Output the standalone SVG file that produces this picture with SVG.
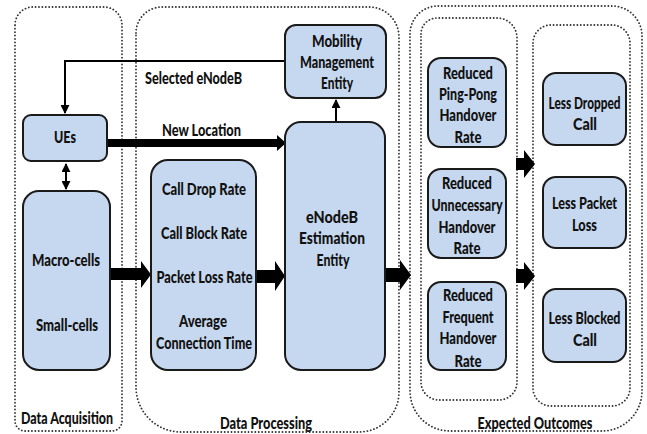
<svg xmlns="http://www.w3.org/2000/svg" width="647" height="434" viewBox="0 0 647 434">
<style>
.grp{fill:none;stroke:#333;stroke-width:1.8;stroke-dasharray:0.1 3.3;stroke-linecap:round}
.box{fill:#c6d8ef;stroke:#1a1a1a;stroke-width:2}
text{font-family:Lato,"Liberation Sans",sans-serif;font-weight:900;font-size:17px;fill:#111;text-anchor:middle}
.ln{fill:none;stroke:#000;stroke-width:2}
.big{fill:#000}
</style>
<defs>
<marker id="ah" viewBox="0 0 10 10" refX="9" refY="5" markerWidth="4.5" markerHeight="4.5" orient="auto-start-reverse" markerUnits="strokeWidth">
<path d="M0,0 L10,5 L0,10 Z" fill="#000"/>
</marker>
</defs>
<rect width="647" height="434" fill="#fff"/>
<g id="groups">
<path class="grp" d="M15,25 A18,18 0 0 1 33,7 H104 A18,18 0 0 1 122,25 V421 A10,10 0 0 1 112,431 H25 A10,10 0 0 1 15,421 Z"/>
<path class="grp" d="M136,33 A26,26 0 0 1 162,7 H369 A30,30 0 0 1 399,37 V392 A40,40 0 0 1 359,432 H181 A45,45 0 0 1 136,387 Z"/>
<path class="grp" d="M410,34 A28,28 0 0 1 438,6 H612 A30,30 0 0 1 642,36 V391 A40,40 0 0 1 602,431 H450 A40,40 0 0 1 410,391 Z"/>
<path class="grp" d="M421,34 A16,16 0 0 1 437,18 H497 A20,20 0 0 1 517,38 V382 A18,18 0 0 1 499,400 H439 A18,18 0 0 1 421,382 Z"/>
<path class="grp" d="M533,43 A18,18 0 0 1 551,25 H612 A18,18 0 0 1 630,43 V388 A18,18 0 0 1 612,406 H551 A18,18 0 0 1 533,388 Z"/>
<text x="67" y="424" textLength="92" lengthAdjust="spacingAndGlyphs">Data Acquisition</text>
<text x="266" y="429" textLength="92" lengthAdjust="spacingAndGlyphs">Data Processing</text>
<text x="535" y="429" textLength="115" lengthAdjust="spacingAndGlyphs">Expected Outcomes</text>
</g>
<g id="connectors">
<polyline class="ln" points="285,61 65,61 65,113" marker-end="url(#ah)"/>
<line class="ln" x1="66" y1="164" x2="66" y2="189" marker-start="url(#ah)" marker-end="url(#ah)"/>
<line class="ln" x1="336" y1="122" x2="336" y2="100" marker-end="url(#ah)"/>
<polygon class="big" points="107,139 277,139 277,135 286,143 277,151 277,147 107,147"/>
<polygon class="big" points="110,268 141,268 141,261 151,274.5 141,288 141,280 110,280"/>
<polygon class="big" points="256,270 275,270 275,261 285,276 275,291 275,283 256,283"/>
<polygon class="big" points="385,268 400,268 400,260 411,275 400,290 400,282 385,282"/>
<polygon class="big" points="516,158 524,158 524,150 535,164 524,178 524,170 516,170"/>
<polygon class="big" points="516,269 524,269 524,262 535,276 524,290 524,283 516,283"/>
<text x="193.5" y="84" textLength="97" lengthAdjust="spacingAndGlyphs">Selected eNodeB</text>
<text x="201.5" y="136" textLength="79" lengthAdjust="spacingAndGlyphs">New Location</text>
</g>
<g id="ues"><rect class="box" x="23" y="115" width="84" height="46" rx="8"/><text x="65" y="143" textLength="22" lengthAdjust="spacingAndGlyphs">UEs</text></g>
<g id="cells"><rect class="box" x="23" y="191" width="87" height="179" rx="16"/><text x="66" y="266" textLength="68" lengthAdjust="spacingAndGlyphs">Macro-cells</text><text x="67" y="331" textLength="62" lengthAdjust="spacingAndGlyphs">Small-cells</text></g>
<g id="metrics"><rect class="box" x="151" y="160" width="105" height="210" rx="17"/>
<text x="204" y="195" textLength="84" lengthAdjust="spacingAndGlyphs">Call Drop Rate</text><text x="204" y="239" textLength="86" lengthAdjust="spacingAndGlyphs">Call Block Rate</text><text x="204.5" y="283" textLength="96" lengthAdjust="spacingAndGlyphs">Packet Loss Rate</text><text x="203" y="327" textLength="48" lengthAdjust="spacingAndGlyphs">Average</text><text x="204" y="349" textLength="96" lengthAdjust="spacingAndGlyphs">Connection Time</text></g>
<g id="mme"><rect class="box" x="285" y="25" width="101" height="73" rx="11"/><text x="337" y="47" textLength="50" lengthAdjust="spacingAndGlyphs">Mobility</text><text x="337" y="68" textLength="74" lengthAdjust="spacingAndGlyphs">Management</text><text x="337" y="89" textLength="32" lengthAdjust="spacingAndGlyphs">Entity</text></g>
<g id="enodeb"><rect class="box" x="285" y="122" width="100" height="248" rx="16"/><text x="332" y="223" textLength="52" lengthAdjust="spacingAndGlyphs">eNodeB</text><text x="332" y="244" textLength="66" lengthAdjust="spacingAndGlyphs">Estimation</text><text x="333" y="266" textLength="33" lengthAdjust="spacingAndGlyphs">Entity</text></g>
<g id="pingpong"><rect class="box" x="428" y="58" width="78" height="89" rx="13"/><text x="468" y="79" textLength="50" lengthAdjust="spacingAndGlyphs">Reduced</text><text x="468" y="100" textLength="58" lengthAdjust="spacingAndGlyphs">Ping-Pong</text><text x="468" y="121" textLength="57" lengthAdjust="spacingAndGlyphs">Handover</text><text x="468" y="143" textLength="27" lengthAdjust="spacingAndGlyphs">Rate</text></g>
<g id="unnecessary"><rect class="box" x="428" y="169" width="78" height="89" rx="13"/><text x="467" y="189" textLength="50" lengthAdjust="spacingAndGlyphs">Reduced</text><text x="467" y="211" textLength="71" lengthAdjust="spacingAndGlyphs">Unnecessary</text><text x="467" y="233" textLength="57" lengthAdjust="spacingAndGlyphs">Handover</text><text x="467" y="254" textLength="27" lengthAdjust="spacingAndGlyphs">Rate</text></g>
<g id="frequent"><rect class="box" x="428" y="282" width="78" height="88" rx="13"/><text x="468" y="301" textLength="50" lengthAdjust="spacingAndGlyphs">Reduced</text><text x="468" y="323" textLength="51" lengthAdjust="spacingAndGlyphs">Frequent</text><text x="468" y="344" textLength="57" lengthAdjust="spacingAndGlyphs">Handover</text><text x="468" y="367" textLength="27" lengthAdjust="spacingAndGlyphs">Rate</text></g>
<g id="dropped"><rect class="box" x="543" y="73" width="83" height="72" rx="13"/><text x="584.5" y="109" textLength="72" lengthAdjust="spacingAndGlyphs">Less Dropped</text><text x="585" y="130" textLength="24" lengthAdjust="spacingAndGlyphs">Call</text></g>
<g id="packet"><rect class="box" x="543" y="177" width="83" height="71" rx="13"/><text x="584.5" y="209" textLength="65" lengthAdjust="spacingAndGlyphs">Less Packet</text><text x="584.5" y="231" textLength="25" lengthAdjust="spacingAndGlyphs">Loss</text></g>
<g id="blocked"><rect class="box" x="543" y="289" width="83" height="73" rx="13"/><text x="584.5" y="324" textLength="72" lengthAdjust="spacingAndGlyphs">Less Blocked</text><text x="585" y="346" textLength="24" lengthAdjust="spacingAndGlyphs">Call</text></g>
</svg>
